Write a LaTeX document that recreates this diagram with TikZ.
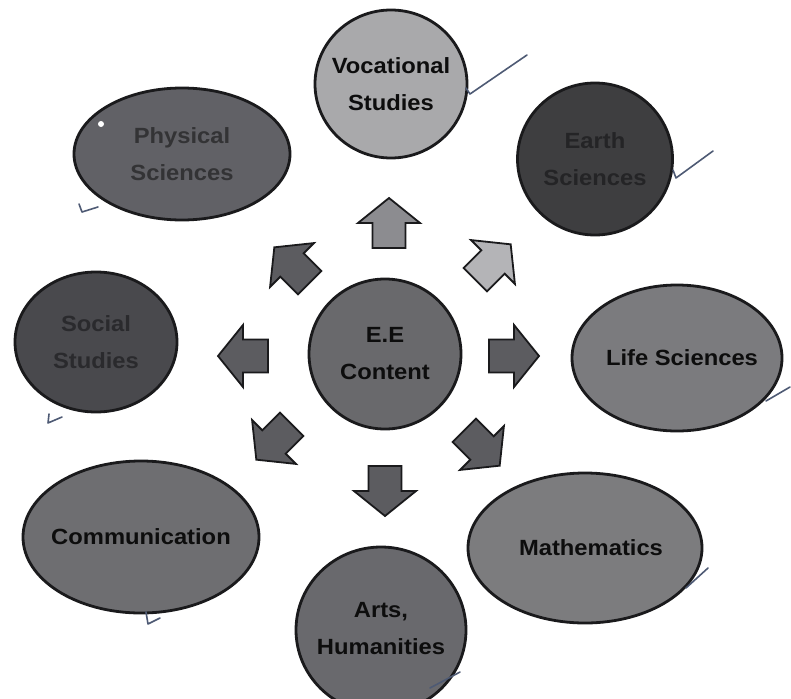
\documentclass[tikz,border=0pt]{standalone}
\usepackage{fontspec}
\usetikzlibrary{shapes.geometric}
\newfontfamily\lblfont{Liberation Sans}[FakeStretch=1.08]

\definecolor{inkline}{HTML}{1A1A1C}
\definecolor{tickink}{HTML}{4E5A74}
\definecolor{vocfill}{HTML}{A9A9AB}
\definecolor{earthfill}{HTML}{3E3E40}
\definecolor{earthtext}{HTML}{242426}
\definecolor{physfill}{HTML}{616166}
\definecolor{phystext}{HTML}{333335}
\definecolor{socialfill}{HTML}{49494D}
\definecolor{socialtext}{HTML}{2A2A2D}
\definecolor{lifefill}{HTML}{7B7B7E}
\definecolor{commfill}{HTML}{6E6E71}
\definecolor{mathfill}{HTML}{7C7C7E}
\definecolor{artsfill}{HTML}{69696D}
\definecolor{eefill}{HTML}{69696C}
\definecolor{arrowdark}{HTML}{5C5C60}
\definecolor{arrowmid}{HTML}{8C8C90}
\definecolor{arrowlight}{HTML}{B4B4B7}

\tikzset{
  labelfont/.style={font=\lblfont\bfseries\fontsize{22}{37}\selectfont,
    text={black!95}, align=center, inner sep=0pt},
  topic/.style={ellipse, draw=inkline, line width=2.8pt, inner sep=0pt},
  arrowfill/.initial=gray,
  blockarrow/.pic={
    \path[draw=inkline, line width=1.8pt, line join=miter, fill=\pgfkeysvalueof{/tikz/arrowfill}]
      (-25,-16.5) -- (0,-16.5) -- (0,-31) -- (25,0) -- (0,31) -- (0,16.5) -- (-25,16.5) -- cycle;
  },
  tickmark/.style={draw=tickink, line width=1.6pt, line cap=round, line join=round},
}

\begin{document}
\begin{tikzpicture}[x=1pt, y=-1pt]
\useasboundingbox (0,0) rectangle (791,698);
\begin{scope}
\clip (0,0) rectangle (791,698);

% outer topics: shapes
\node[topic, fill=vocfill, minimum width=152pt, minimum height=148pt] (voc) at (391,84) {};
\node[topic, fill=earthfill, minimum width=155pt, minimum height=152pt] (earth) at (595,159) {};
\node[topic, fill=physfill, minimum width=216pt, minimum height=132pt] (phys) at (182,154) {};
\node[topic, fill=socialfill, minimum width=162pt, minimum height=140pt] (social) at (96,342) {};
\node[topic, fill=lifefill, minimum width=210pt, minimum height=146pt] (life) at (677,358) {};
\node[topic, fill=commfill, minimum width=236pt, minimum height=152pt] (comm) at (141,537) {};
\node[topic, fill=mathfill, minimum width=234pt, minimum height=150pt] (math) at (585,548) {};
\node[topic, fill=artsfill, minimum width=170pt, minimum height=166pt] (arts) at (381,630) {};
% central topic
\node[topic, fill=eefill, minimum width=152pt, minimum height=150pt] (ee) at (385,354) {};

% topic labels
\node[labelfont] (voclabel) at (voc) {Vocational\\Studies};
\node[labelfont, text=earthtext] (earthlabel) at (earth) {Earth\\Sciences};
\node[labelfont, text=phystext] (physlabel) at (phys) {Physical\\Sciences};
\node[labelfont, text=socialtext] (sociallabel) at (social) {Social\\Studies};
\node[labelfont] (lifelabel) at ([xshift=5pt]life) {Life Sciences};
\node[labelfont] (commlabel) at (comm) {Communication};
\node[labelfont] (mathlabel) at ([xshift=6pt]math) {Mathematics};
\node[labelfont] (artslabel) at ([yshift=1pt]arts) {Arts,\\Humanities};
\node[labelfont] (eelabel) at (ee) {E.E\\Content};

% block arrows radiating from the centre
\pic[rotate=90,  arrowfill=arrowmid] at (389,223) {blockarrow};
\pic[rotate=45,  arrowfill=arrowlight] at (493,262) {blockarrow};
\pic[rotate=135, arrowfill=arrowdark] at (292,265) {blockarrow};
\pic[rotate=180, arrowfill=arrowdark] at (243,356) {blockarrow};
\pic[rotate=0,   arrowfill=arrowdark] at (514,356) {blockarrow};
\pic[rotate=225, arrowfill=arrowdark] at (274,442) {blockarrow};
\pic[rotate=315, arrowfill=arrowdark] at (482,448) {blockarrow};
\pic[rotate=270, arrowfill=arrowdark] at (385,491) {blockarrow};

% pen tick marks
\draw[tickmark] (466,88) -- (470,94) -- (527,55);
\draw[tickmark] (673,170) -- (676,178) -- (713,151);
\draw[tickmark] (79,204) -- (82,212) -- (98,207);
\draw[tickmark] (49,414) -- (48,423) -- (62,417);
\draw[tickmark] (146,612) -- (148,624) -- (160,618);
\draw[tickmark] (686,588) -- (708,568);
\draw[tickmark] (766,401) -- (790,387);
\draw[tickmark] (430,688) -- (460,672);
\fill[white] (101,124) circle (3pt);
\end{scope}
\end{tikzpicture}
\end{document}
